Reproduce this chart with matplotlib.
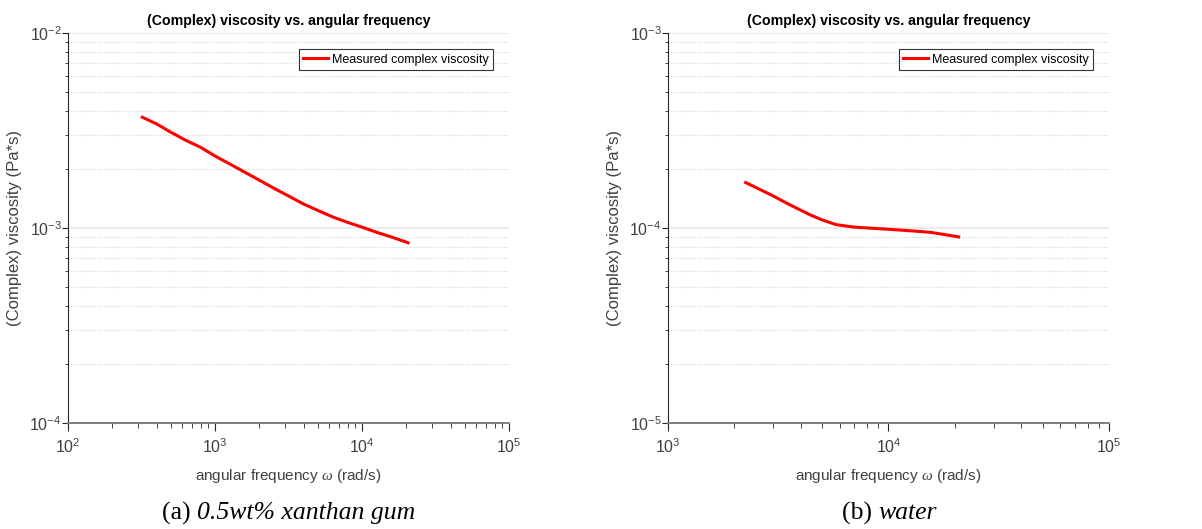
import numpy as np
import matplotlib
matplotlib.use("Agg")
from matplotlib import pyplot as plt
from matplotlib.ticker import LogLocator, NullFormatter

# 0.5wt% xanthan gum
xg_omega = [320, 400, 500, 630, 800, 1000, 1260, 1580, 2000, 2510, 3160,
            3980, 5010, 6310, 7940, 10000, 12600, 15800, 20600]
xg_visc = [3.70e-3, 3.42e-3, 3.10e-3, 2.82e-3, 2.59e-3, 2.34e-3, 2.13e-3,
           1.94e-3, 1.76e-3, 1.60e-3, 1.46e-3, 1.33e-3, 1.23e-3, 1.14e-3,
           1.07e-3, 1.01e-3, 0.95e-3, 0.90e-3, 0.84e-3]

# water
w_omega = [2250, 2600, 3000, 3500, 4400, 5000, 5800, 7000, 10000, 13000,
           15500, 18000, 20800]
w_visc = [1.71e-4, 1.58e-4, 1.46e-4, 1.33e-4, 1.17e-4, 1.10e-4, 1.04e-4,
          1.01e-4, 0.985e-4, 0.965e-4, 0.95e-4, 0.925e-4, 0.90e-4]

title = "(Complex) viscosity vs. angular frequency"
ylab = "(Complex) viscosity (Pa*s)"
xlab = r"angular frequency $\omega$ (rad/s)"
leg = "Measured complex viscosity"

plt.rcParams['font.family'] = ['Liberation Sans', 'DejaVu Sans']
plt.rcParams['mathtext.fontset'] = 'custom'
plt.rcParams['mathtext.rm'] = 'Liberation Sans'
plt.rcParams['mathtext.it'] = 'Liberation Serif:italic'
plt.rcParams['axes.unicode_minus'] = False

fig = plt.figure(figsize=(12.02, 5.29), dpi=100)

panels = [
    (xg_omega, xg_visc, (1e2, 1e5), (1e-4, 1e-2), 68, "(a) ", "0.5wt% xanthan gum"),
    (w_omega, w_visc, (1e3, 1e5), (1e-5, 1e-3), 668, "(b) ", "water"),
]

W, H = 1202.0, 529.0
renderer = fig.canvas.get_renderer()
for om, vi, xl, yl, left_px, cap_a, cap_b in panels:
    ax = fig.add_axes([left_px / W, 1 - 423 / H, 441 / W, 390 / H])
    ax.plot(om, vi, color='#ff0000', linewidth=2.2, label=leg)
    ax.set_xscale('log')
    ax.set_yscale('log')
    ax.set_xlim(xl)
    ax.set_ylim(yl)
    ax.yaxis.set_minor_locator(LogLocator(base=10, subs=np.arange(2, 10)))
    ax.xaxis.set_minor_locator(LogLocator(base=10, subs=np.arange(2, 10)))
    ax.yaxis.set_minor_formatter(NullFormatter())
    ax.xaxis.set_minor_formatter(NullFormatter())
    ax.grid(True, which='major', axis='y', color='#e6e6e6', linestyle='-', linewidth=1.2)
    ax.grid(True, which='minor', axis='y', color='#d0d0d0', linestyle=':', linewidth=0.8)
    ax.set_axisbelow(True)
    for s in ('top', 'right'):
        ax.spines[s].set_visible(False)
    ax.spines['left'].set_color('#262626')
    ax.spines['bottom'].set_color('#808080')
    ax.spines['bottom'].set_linewidth(1.4)
    ax.tick_params(which='both', direction='out', colors='#262626',
                   labelcolor='#404040', labelsize=11.5)
    ax.tick_params(which='major', length=6)
    ax.tick_params(which='minor', length=3.5)
    ax.tick_params(axis='x', which='major', pad=4)
    ax.tick_params(axis='y', which='major', length=4, pad=0.5)
    ax.tick_params(axis='y', which='minor', length=2.5)
    ax.set_title(title, fontsize=10.2, fontweight='bold', pad=6)
    ax.set_ylabel(ylab, fontsize=12, color='#404040', labelpad=5)
    ax.set_xlabel(xlab, fontsize=11, color='#404040', labelpad=8)
    lg = ax.legend(loc='upper right', fontsize=9, fancybox=False,
                   framealpha=1, edgecolor='#333333', handlelength=2.0,
                   borderaxespad=1.3, borderpad=0.35, handletextpad=0.3)
    lg.get_frame().set_linewidth(0.8)

    # caption under the panel, "(x) " upright + italic description, centred
    cx = left_px + 221
    cy = 1 - 513 / H
    t1 = fig.text(0, cy, cap_a, fontsize=18.5, family='Liberation Serif',
                  ha='left', va='center')
    t2 = fig.text(0, cy, cap_b, fontsize=18.5, family='Liberation Serif',
                  style='italic', ha='left', va='center')
    w1 = t1.get_window_extent(renderer).width
    w2 = t2.get_window_extent(renderer).width
    x0 = cx - (w1 + w2) / 2
    t1.set_x(x0 / W)
    t2.set_x((x0 + w1) / W)

fig.savefig("out.png", dpi=100)
